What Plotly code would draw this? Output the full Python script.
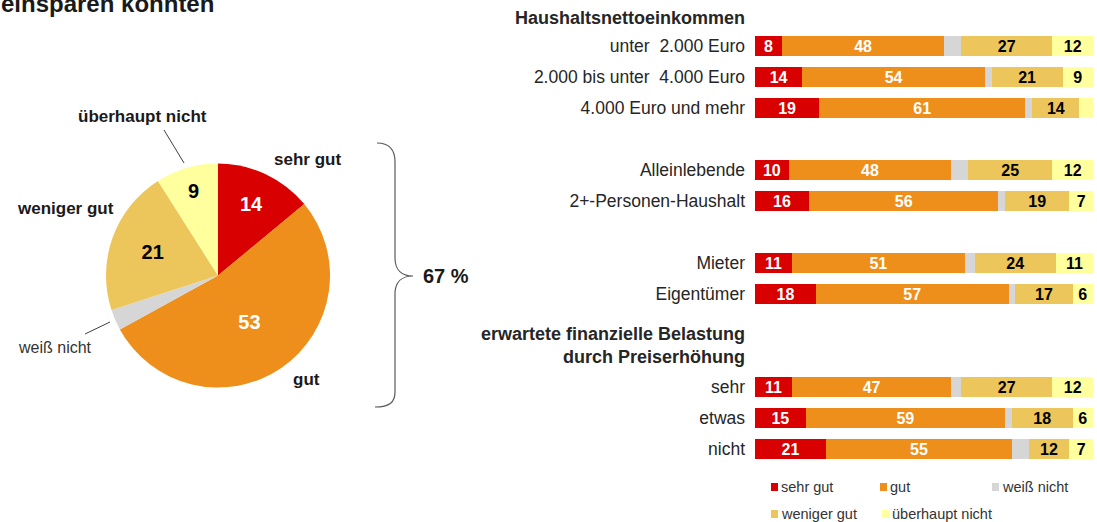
import plotly.graph_objects as go

W, H = 1097, 522
FONT = "Liberation Sans, Arial, sans-serif"

# ---------------- data ----------------
series_names = ["sehr gut", "gut", "weiß nicht", "weniger gut", "überhaupt nicht"]
series_colors = ["#D80000", "#EE8F1B", "#D6D6D6", "#ECC65B", "#FFFF9E"]
text_colors = ["white", "white", "black", "black", "black"]

pie_values = [14, 53, 3, 21, 9]
pie_total_good = 67

categories = [
    "unter\u00a0 2.000 Euro",
    "2.000 bis unter\u00a0 4.000 Euro",
    "4.000 Euro und mehr",
    "Alleinlebende",
    "2+-Personen-Haushalt",
    "Mieter",
    "Eigentümer",
    "sehr",
    "etwas",
    "nicht",
]
sehr_gut = [8, 14, 19, 10, 16, 11, 18, 11, 15, 21]
gut = [48, 54, 61, 48, 56, 51, 57, 47, 59, 55]
weiss_nicht = [5, 2, 2, 5, 2, 3, 2, 3, 2, 5]
weniger_gut = [27, 21, 14, 25, 19, 24, 17, 27, 18, 12]
ueberhaupt_nicht = [12, 9, 4, 12, 7, 11, 6, 12, 6, 7]
bar_series = [sehr_gut, gut, weiss_nicht, weniger_gut, ueberhaupt_nicht]
labelled = [True, True, False, True, True]

headers = ["Haushaltsnettoeinkommen", "erwartete finanzielle Belastung<br>durch Preiserhöhung"]

# ---------------- layout helpers ----------------
def px(x):
    return x / W


def py(y):
    return 1 - y / H


row_pos = [0, 1, 2, 4, 5, 7, 8, 11, 12, 13]
header_pos = [-0.9, 9.65]
ROW_PX = 31.0
TOP_PX = 46.0

fig = go.Figure()

# ---------------- pie ----------------
pie_text = [str(v) if v >= 5 else "" for v in pie_values]
fig.add_trace(go.Pie(
    values=pie_values,
    labels=series_names,
    text=pie_text,
    textinfo="text",
    textposition="inside",
    insidetextorientation="horizontal",
    insidetextfont=dict(family=FONT, size=20, color=text_colors, weight="bold"),
    marker=dict(colors=series_colors, line=dict(width=0)),
    sort=False,
    direction="clockwise",
    rotation=0,
    hole=0,
    showlegend=False,
    hoverinfo="skip",
    domain=dict(x=[px(106), px(330)], y=[py(388), py(163)]),
))

# ---------------- bars ----------------
for name, vals, col, tcol, lab in zip(series_names, bar_series, series_colors, text_colors, labelled):
    txt = [str(v) if (lab and v >= 5) else "" for v in vals]
    fig.add_trace(go.Bar(
        x=vals,
        y=row_pos,
        orientation="h",
        name=name,
        marker=dict(color=col, line=dict(width=0)),
        width=20 / ROW_PX,
        text=txt,
        textposition="inside",
        insidetextanchor="middle",
        constraintext="none",
        textangle=0,
        textfont=dict(family=FONT, size=16, color=tcol, weight="bold"),
        showlegend=False,
        hoverinfo="skip",
        xaxis="x",
        yaxis="y",
    ))

tickvals = list(row_pos) + header_pos
ticktext = list(categories) + [
    "<b><span style='font-size:18px'>%s</span></b>" % h.replace(
        "<br>", "</span></b><br><b><span style='font-size:18px'>")
    for h in headers
]

y_top = -TOP_PX / ROW_PX
y_bot = (H - TOP_PX) / ROW_PX

fig.update_layout(
    width=W,
    height=H,
    margin=dict(l=0, r=0, t=0, b=0),
    paper_bgcolor="white",
    plot_bgcolor="white",
    barmode="stack",
    bargap=0,
    hovermode=False,
    font=dict(family=FONT, color="#262626"),
    xaxis=dict(
        domain=[px(755), px(1093)],
        range=[0, 100],
        visible=False,
        fixedrange=True,
    ),
    yaxis=dict(
        domain=[0, 1],
        range=[y_bot, y_top],
        tickvals=tickvals,
        ticktext=ticktext,
        tickfont=dict(family=FONT, size=17.5, color="#262626"),
        ticks="",
        showgrid=False,
        zeroline=False,
        showline=False,
        ticklabelstandoff=9,
        fixedrange=True,
    ),
)

annotations = []
shapes = []

# title fragment at the very top (cut off by the page edge)
annotations.append(dict(
    text="<b>einsparen könnten</b>", x=px(-1), y=py(3), xref="paper", yref="paper",
    xanchor="left", yanchor="middle", showarrow=False,
    font=dict(family=FONT, size=24, color="#1a1a1a"),
))

# pie outside labels
pie_labels = [
    ("<b>sehr gut</b>", 307, 160, 17),
    ("<b>gut</b>", 306, 379, 17),
    ("<b>weniger gut</b>", 65, 208, 17),
    ("<b>überhaupt nicht</b>", 142, 116, 17),
    ("weiß nicht", 55, 347, 16),
]
for t, x, y, s in pie_labels:
    annotations.append(dict(
        text=t, x=px(x), y=py(y), xref="paper", yref="paper",
        xanchor="center", yanchor="middle", showarrow=False,
        font=dict(family=FONT, size=s, color="#1a1a1a" if "<b>" in t else "#333333"),
    ))

# leader lines
for (x0, y0, x1, y1) in [(164, 130, 184, 163), (85, 334, 110, 322)]:
    shapes.append(dict(type="line", xref="paper", yref="paper",
                       x0=px(x0), y0=py(y0), x1=px(x1), y1=py(y1),
                       line=dict(color="#404040", width=1)))

# brace
pts = "M {},{} C {},{} {},{} {},{} L {},{} C {},{} {},{} {},{} C {},{} {},{} {},{} L {},{} C {},{} {},{} {},{}".format(
    px(377), py(143), px(390), py(143), px(395), py(150), px(395), py(162),
    px(395), py(258),
    px(395), py(270), px(402), py(276), px(413), py(276),
    px(402), py(276), px(395), py(282), px(395), py(294),
    px(395), py(392),
    px(395), py(402), px(390), py(407), px(375), py(407),
)
shapes.append(dict(type="path", path=pts, xref="paper", yref="paper",
                   line=dict(color="#595959", width=1.2)))
annotations.append(dict(
    text="<b>%d %%</b>" % pie_total_good, x=px(421), y=py(276), xref="paper", yref="paper",
    xanchor="left", yanchor="middle", showarrow=False,
    font=dict(family=FONT, size=20, color="#1a1a1a"),
))

# manual legend
legend_pos = [(771, 487), (880, 487), (992, 487), (771, 514), (882, 514)]
for name, col, (lx, ly) in zip(series_names, series_colors, legend_pos):
    shapes.append(dict(type="rect", xref="paper", yref="paper",
                       x0=px(lx), x1=px(lx + 7), y0=py(ly + 4), y1=py(ly - 4),
                       fillcolor=col, line=dict(width=0)))
    annotations.append(dict(
        text=name, x=px(lx + 8), y=py(ly), xref="paper", yref="paper",
        xanchor="left", yanchor="middle", showarrow=False,
        font=dict(family=FONT, size=14.5, color="#333333"),
    ))

fig.update_layout(annotations=annotations, shapes=shapes)

fig.write_html("out.html", config={"displayModeBar": False, "staticPlot": True})

# remove the browser's default body margin so the figure sits at the page origin
with open("out.html", "r", encoding="utf-8") as f:
    html = f.read()
html = html.replace("<body>", "<body style=\"margin:0;padding:0;overflow:hidden\">", 1)
with open("out.html", "w", encoding="utf-8") as f:
    f.write(html)
